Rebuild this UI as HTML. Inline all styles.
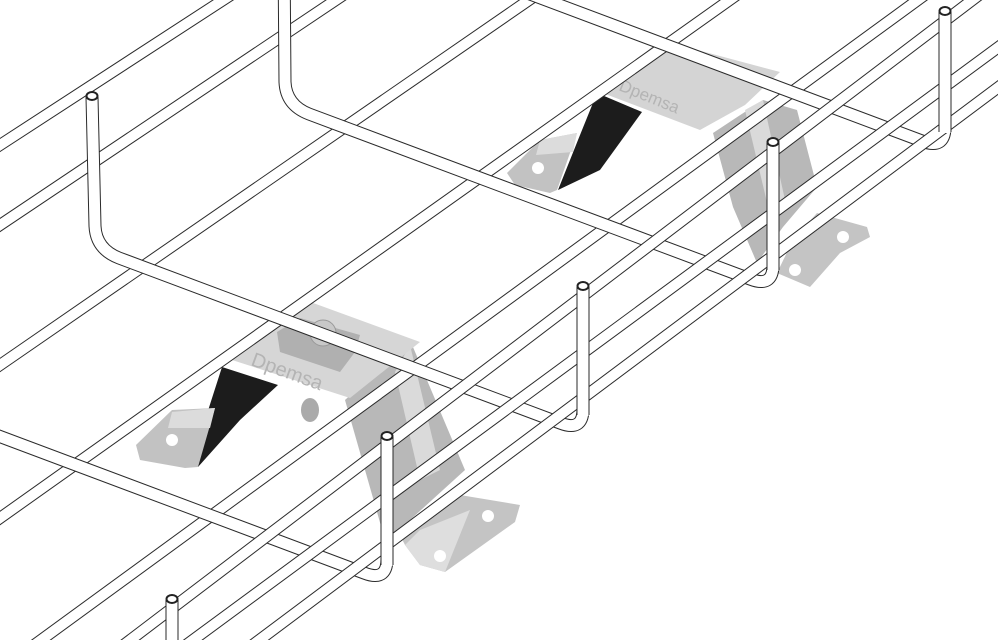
<!DOCTYPE html>
<html><head><meta charset="utf-8"><style>
html,body{margin:0;padding:0;background:#fff;width:998px;height:640px;overflow:hidden}
svg{display:block;overflow:hidden}
</style></head><body>
<svg width="998" height="640" viewBox="0 0 998 640" xmlns="http://www.w3.org/2000/svg">
<!-- Bracket A -->
<g>
<polygon points="345,400 410,340 465,470 410,520 385,540" fill="#b8b8b8"/>
<polygon points="395,372 410,345 440,470 420,480" fill="#dadada"/>
<polygon points="400,535 460,495 520,505 515,522 445,572 420,565 405,545" fill="#c4c4c4"/>
<polygon points="405,545 420,530 470,510 445,572 420,565" fill="#dedede"/>
<circle cx="488" cy="516" r="6" fill="#fff"/><circle cx="440" cy="556" r="6" fill="#fff"/>
<polygon points="222,367 278,385 240,420 198,467 180,462 205,420" fill="#1c1c1c"/>
<polygon points="136,445 172,410 215,408 198,467 185,468 140,460" fill="#c2c2c2"/>
<polygon points="172,412 215,408 210,428 168,428" fill="#dcdcdc"/>
<circle cx="172" cy="440" r="6" fill="#fff"/>
<polygon points="232,360 305,300 420,342 350,398" fill="#d6d6d6"/>
<text x="0" y="0" transform="translate(250,365) rotate(20)" font-family="Liberation Sans, sans-serif" font-size="20" fill="#b4b4b4">Dpemsa</text>
<polygon points="277,332 300,318 360,335 355,352 340,372 280,352" fill="#b0b0b0"/>
<circle cx="323" cy="333" r="13" fill="#c8c8c8" stroke="#999" stroke-width="1"/>
<ellipse cx="310" cy="410" rx="9" ry="12" fill="#aaa"/>
</g>
<!-- Bracket B -->
<g>
<polygon points="713,133 763,100 797,110 817,187 783,227 757,263 733,207" fill="#b8b8b8"/>
<polygon points="745,110 763,100 785,200 770,215" fill="#dadada"/>
<polygon points="777,273 793,240 817,213 867,227 870,237 840,253 810,287" fill="#c4c4c4"/>
<circle cx="843" cy="237" r="6" fill="#fff"/><circle cx="795" cy="270" r="6" fill="#fff"/>
<polygon points="597,93 642,112 600,170 558,190 578,140" fill="#1c1c1c"/>
<polygon points="507,173 540,140 577,133 557,190 550,193 515,185" fill="#c2c2c2"/>
<polygon points="540,140 577,133 573,152 536,155" fill="#dcdcdc"/>
<circle cx="538" cy="168" r="6" fill="#fff"/>
<polygon points="600,92 660,40 780,72 745,105 700,130" fill="#d4d4d4"/>
<text x="0" y="0" transform="translate(618,90) rotate(22)" font-family="Liberation Sans, sans-serif" font-size="17" fill="#b4b4b4">Dpemsa</text>
</g>
<!-- wires -->
<g fill="none" stroke-linecap="butt" stroke-linejoin="round">
<g stroke="#2a2a2a" stroke-width="12">
<line x1="-10" y1="151.5" x2="1010" y2="-511.5"/>
<line x1="-10" y1="231.7" x2="1010" y2="-451.7"/>
<line x1="-10" y1="371.9" x2="1010" y2="-331.9"/>
<line x1="-10" y1="525.1" x2="1010" y2="-199.1"/>
<line x1="-10" y1="677.3" x2="1010" y2="-67.3"/>
</g>
<g stroke="#fff" stroke-width="10">
<line x1="-10" y1="151.5" x2="1010" y2="-511.5"/>
<line x1="-10" y1="231.7" x2="1010" y2="-451.7"/>
<line x1="-10" y1="371.9" x2="1010" y2="-331.9"/>
<line x1="-10" y1="525.1" x2="1010" y2="-199.1"/>
<line x1="-10" y1="677.3" x2="1010" y2="-67.3"/>
</g>
<path d="M92 97 L95 226 Q96 249 119 258 L560 423 Q583 432 583 409 L583 287" stroke="#2a2a2a" stroke-width="13"/>
<path d="M92 97 L95 226 Q96 249 119 258 L560 423 Q583 432 583 409 L583 287" stroke="#fff" stroke-width="11"/>
<path d="M284 -45 L285 82 Q286 105 309 114 L750 279 Q773 288 773 265 L773 143" stroke="#2a2a2a" stroke-width="13"/>
<path d="M284 -45 L285 82 Q286 105 309 114 L750 279 Q773 288 773 265 L773 143" stroke="#fff" stroke-width="11"/>
<path d="M-100 399 L364 573 Q387 582 387 559 L387 437" stroke="#2a2a2a" stroke-width="13"/>
<path d="M-100 399 L364 573 Q387 582 387 559 L387 437" stroke="#fff" stroke-width="11"/>
<path d="M458 -33 L922 141 Q945 150 945 127 L945 12" stroke="#2a2a2a" stroke-width="13"/>
<path d="M458 -33 L922 141 Q945 150 945 127 L945 12" stroke="#fff" stroke-width="11"/>
<path d="M172 600 L172 645" stroke="#2a2a2a" stroke-width="13"/>
<path d="M172 600 L172 645" stroke="#fff" stroke-width="11"/>
<g stroke="#2a2a2a" stroke-width="12">
<line x1="-10" y1="746.6" x2="1010" y2="-28.6"/>
<line x1="-10" y1="789.4" x2="1010" y2="38.6"/>
<line x1="-10" y1="841.5" x2="1010" y2="78.5"/>
</g>
<g stroke="#fff" stroke-width="10">
<line x1="-10" y1="746.6" x2="1010" y2="-28.6"/>
<line x1="-10" y1="789.4" x2="1010" y2="38.6"/>
<line x1="-10" y1="841.5" x2="1010" y2="78.5"/>
</g>
<g stroke="#2a2a2a" stroke-width="13">
<line x1="387" y1="437" x2="387" y2="565"/><line x1="583" y1="287" x2="583" y2="415"/>
<line x1="773" y1="143" x2="773" y2="270"/><line x1="945" y1="12" x2="945" y2="132"/>
<line x1="172" y1="600" x2="172" y2="640"/>
</g>
<g stroke="#fff" stroke-width="11">
<line x1="387" y1="436" x2="387" y2="566"/><line x1="583" y1="286" x2="583" y2="416"/>
<line x1="773" y1="142" x2="773" y2="271"/><line x1="945" y1="11" x2="945" y2="133"/>
<line x1="172" y1="599" x2="172" y2="640"/>
</g>
</g>
<g fill="#fff" stroke="#222" stroke-width="2">
<ellipse cx="92" cy="96" rx="5.5" ry="4"/>
<ellipse cx="583" cy="286" rx="5.5" ry="4"/>
<ellipse cx="773" cy="142" rx="5.5" ry="4"/>
<ellipse cx="945" cy="11" rx="5.5" ry="4"/>
<ellipse cx="387" cy="436" rx="5.5" ry="4"/>
<ellipse cx="172" cy="599" rx="5.5" ry="4"/>
</g>
</svg>
</body></html>
